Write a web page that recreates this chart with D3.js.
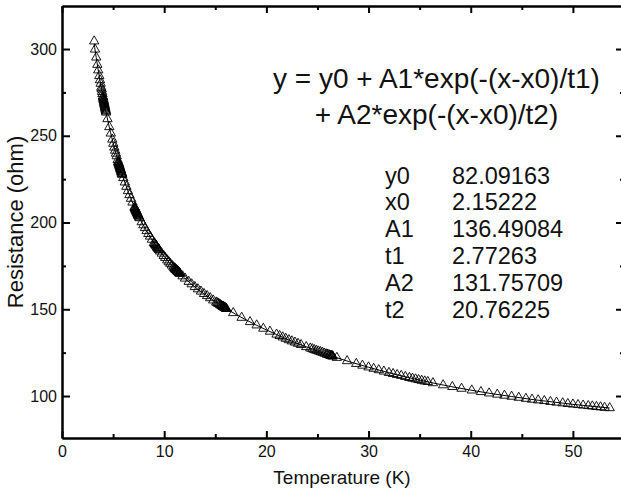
<!DOCTYPE html>
<html>
<head>
<meta charset="utf-8">
<script src="https://cdn.jsdelivr.net/npm/d3@7/dist/d3.min.js"></script>
<style>
  html, body { margin: 0; padding: 0; background: #fff; }
  svg { display: block; }
  text { font-family: "Liberation Sans", Arial, sans-serif; fill: #111; }
</style>
</head>
<body>
<svg id="chart" width="621" height="491"></svg>
<script>
// ---- data ----
const tempK = [
  3.15, 3.23, 3.35, 3.46, 3.55, 3.65, 3.72, 3.78, 3.85, 3.88,
  3.92, 3.96, 4.0, 4.04, 4.08, 4.12, 4.16, 4.2, 4.24, 4.28, 4.32,
  4.45, 4.63, 4.78, 4.92, 5.02, 5.12, 5.2, 5.28, 5.35,
  5.45, 5.5, 5.55, 5.6, 5.65, 5.7, 5.75, 5.8, 5.85, 5.9,
  6.0, 6.15, 6.3, 6.45, 6.6, 6.75, 6.9,
  7.1, 7.15, 7.2, 7.25, 7.3, 7.35, 7.4, 7.45, 7.5, 7.55, 7.6,
  7.8, 7.96, 8.12, 8.28, 8.45, 8.61, 8.8,
  9.0, 9.1, 9.2, 9.3, 9.4, 9.5, 9.6,
  9.76, 9.95, 10.1, 10.3, 10.45, 10.6, 10.75, 10.9,
  11.0, 11.08, 11.16, 11.24, 11.32, 11.4, 11.48, 11.55,
  11.8, 12.04, 12.4, 12.69, 13.0, 13.3, 13.6, 13.9, 14.2, 14.5, 14.8,
  15.1, 15.2, 15.3, 15.4, 15.5, 15.6, 15.7, 15.8, 15.9, 16.0, 16.1,
  16.76, 17.58, 18.4, 19.05, 19.7, 20.35,
  21.0, 21.3, 21.6, 21.9, 22.2, 22.5, 22.8, 23.1, 23.4,
  23.9, 24.3, 24.5, 24.7, 24.9, 25.1, 25.3, 25.5, 25.7, 25.9, 26.1, 26.3, 26.5,
  26.9, 27.9, 28.8, 29.4, 30.0, 30.5, 31.0, 31.5, 32.0, 32.4, 32.8, 33.2, 33.6,
  34.0, 34.3, 34.6, 34.9, 35.2, 35.5, 35.8, 36.3, 37.3, 38.2, 39.1, 40.1,
  41.0, 41.8, 42.6, 43.3, 44.0, 44.7, 45.4, 46.0, 46.6, 47.2, 47.8, 48.4,
  49.0, 49.5, 50.0, 50.5, 51.0, 51.5, 51.9, 52.3, 52.7, 53.1, 53.6,
  // dense clusters
  4.02, 4.06, 4.10, 4.14, 4.18, 4.22, 4.26, 4.30,
  5.52, 5.57, 5.62, 5.67, 5.72, 5.77, 5.82, 5.87,
  7.12, 7.17, 7.22, 7.27, 7.32, 7.37, 7.42, 7.47,
  9.05, 9.15, 9.25, 9.35, 9.45,
  11.04, 11.12, 11.2, 11.28, 11.36, 11.44, 11.52,
  15.75, 15.85, 15.95, 16.05,
  25.95, 26.2, 26.35, 26.4, 26.45
];
const resOhm = [
  304.5, 299.8, 295.2, 291.0, 287.8, 284.5, 282.1, 280.1, 277.8, 276.8,
  275.4, 274.1, 272.7, 271.5, 270.4, 269.2, 268.1, 266.9, 265.8, 264.6, 263.5,
  259.7, 255.1, 251.4, 247.9, 245.5, 243.3, 241.5, 239.8, 238.3,
  236.1, 235.0, 234.1, 233.1, 232.2, 231.3, 230.4, 229.4, 228.5, 227.6,
  225.7, 223.2, 220.7, 218.2, 215.9, 213.8, 211.6,
  208.8, 208.2, 207.5, 206.9, 206.3, 205.6, 205.0, 204.3, 203.7, 203.1, 202.6,
  200.3, 198.5, 196.9, 195.2, 193.5, 192.0, 190.2,
  188.3, 187.5, 186.7, 185.8, 185.0, 184.2, 183.4,
  182.2, 180.8, 179.7, 178.3, 177.2, 176.3, 175.3, 174.3,
  173.7, 173.2, 172.8, 172.3, 171.8, 171.4, 170.9, 170.5,
  169.1, 167.8, 165.9, 164.5, 162.9, 161.6, 160.3, 158.9, 157.7, 156.5, 155.2,
  154.0, 153.6, 153.3, 152.9, 152.5, 152.1, 151.7, 151.4, 151.0, 150.6, 150.3,
  147.9, 145.2, 142.7, 140.8, 138.9, 137.2,
  135.5, 134.7, 133.9, 133.1, 132.3, 131.6, 130.9, 130.2, 129.5,
  128.3, 127.5, 127.1, 126.6, 126.2, 125.8, 125.4, 125.0, 124.5, 124.1, 123.7, 123.3, 122.9,
  122.1, 120.2, 118.6, 117.6, 116.6, 115.8, 115.0, 114.2, 113.4, 112.8, 112.2, 111.7, 111.1,
  110.5, 110.1, 109.7, 109.3, 108.9, 108.5, 108.2, 107.5, 106.3, 105.3, 104.3, 103.3,
  102.4, 101.6, 100.9, 100.3, 99.7, 99.1, 98.5, 98.0, 97.6, 97.2, 96.7, 96.3,
  95.9, 95.5, 95.2, 94.9, 94.6, 94.3, 94.1, 93.8, 93.6, 93.3, 93.1,
  // dense clusters
  272.1, 270.9, 269.8, 268.6, 267.5, 266.3, 265.2, 264.1,
  234.6, 233.7, 232.8, 231.8, 230.9, 230.0, 229.1, 228.1,
  208.5, 207.9, 207.3, 206.6, 206.0, 205.4, 204.7, 204.1,
  187.9, 187.1, 186.3, 185.4, 184.6,
  173.5, 173.0, 172.5, 172.1, 171.6, 171.2, 170.7,
  151.6, 151.2, 150.8, 150.4,
  124.0, 123.5, 123.2, 123.1, 123.0
];
// fitted curve
const fitT = [3.15, 3.2, 3.5, 4, 4.5, 5, 5.5, 6, 6.5, 7, 7.5, 8, 8.5, 9, 9.5, 10, 10.5, 11, 11.5, 12,
  13, 14, 15, 16, 17, 18, 19, 20, 22, 24, 26, 28, 30, 32, 34, 36, 38, 40, 42, 44, 46, 48, 50, 52, 53.6];
const fitR = [302.9, 300.9, 289.5, 272.7, 258.3, 245.9, 235.0, 225.7, 217.4, 210.1, 203.7, 198.1, 193.0,
  188.3, 184.2, 180.4, 176.9, 173.7, 170.8, 168.0, 162.9, 158.5, 154.4, 150.6, 147.1, 143.9, 140.9, 138.1,
  132.8, 128.1, 123.9, 120.0, 116.6, 113.4, 110.5, 107.9, 105.5, 103.4, 101.4, 99.7, 98.0, 96.6, 95.2, 94.0, 93.1];

const xMajorTicks = [0, 10, 20, 30, 40, 50];
const xMinorTicks = [5, 15, 25, 35, 45];
const yMajorTicks = [100, 150, 200, 250, 300];
const yMinorTicks = [125, 175, 225, 275];
const xTitle = "Temperature (K)";
const yTitle = "Resistance (ohm)";
const equationLines = ["y = y0 + A1*exp(-(x-x0)/t1)", "+ A2*exp(-(x-x0)/t2)"];
const paramNames = ["y0", "x0", "A1", "t1", "A2", "t2"];
const paramValues = ["82.09163", "2.15222", "136.49084", "2.77263", "131.75709", "20.76225"];

// ---- layout ----
const svg = d3.select("#chart");
const L = 62, R = 624, T = 6, B = 438;
const x = d3.scaleLinear().domain([0, 55]).range([L, R]);
const y = d3.scaleLinear().domain([75.8, 324.8]).range([B, T]);

const clipId = "plotclip";
svg.append("clipPath").attr("id", clipId).append("rect")
  .attr("x", L).attr("y", T).attr("width", R - L).attr("height", B - T);

// fit line
const pts = fitT.map((t, i) => [t, fitR[i]]);
svg.append("path")
  .datum(pts)
  .attr("clip-path", `url(#${clipId})`)
  .attr("fill", "none")
  .attr("stroke", "#000")
  .attr("stroke-width", 1)
  .attr("d", d3.line().x(d => x(d[0])).y(d => y(d[1])).curve(d3.curveMonotoneX));

// data triangles
const tri = d3.symbol().type(d3.symbolTriangle).size(38);
svg.append("g")
  .selectAll("path")
  .data(tempK.map((t, i) => [t, resOhm[i]]))
  .join("path")
  .attr("d", tri)
  .attr("transform", d => `translate(${x(d[0])},${y(d[1])})`)
  .attr("fill", "none")
  .attr("stroke", "#000")
  .attr("stroke-width", 0.9);

// axes (ticks inward)
function styleAxis(g) {
  g.select(".domain").attr("stroke", "#000").attr("stroke-width", 2);
  g.selectAll(".tick line").attr("stroke", "#000").attr("stroke-width", 2);
  g.selectAll("text").attr("font-size", 16).attr("font-family", '"Liberation Sans", Arial, sans-serif').attr("fill", "#111");
}
const fmt = d3.format("d");
// bottom
svg.append("g").attr("transform", `translate(0,${B})`)
  .call(d3.axisBottom(x).tickValues(xMajorTicks).tickFormat(fmt).tickSizeInner(-7).tickSizeOuter(0).tickPadding(8))
  .call(styleAxis);
svg.append("g").attr("transform", `translate(0,${B})`)
  .call(d3.axisBottom(x).tickValues(xMinorTicks).tickFormat("").tickSizeInner(-4).tickSizeOuter(0))
  .call(styleAxis);
// top
svg.append("g").attr("transform", `translate(0,${T})`)
  .call(d3.axisTop(x).tickValues(xMajorTicks).tickFormat("").tickSizeInner(-7).tickSizeOuter(0))
  .call(styleAxis);
svg.append("g").attr("transform", `translate(0,${T})`)
  .call(d3.axisTop(x).tickValues(xMinorTicks).tickFormat("").tickSizeInner(-4).tickSizeOuter(0))
  .call(styleAxis);
// left
svg.append("g").attr("transform", `translate(${L},0)`)
  .call(d3.axisLeft(y).tickValues(yMajorTicks).tickFormat(fmt).tickSizeInner(-8).tickSizeOuter(0).tickPadding(5))
  .call(styleAxis);
svg.append("g").attr("transform", `translate(${L},0)`)
  .call(d3.axisLeft(y).tickValues(yMinorTicks).tickFormat("").tickSizeInner(-4).tickSizeOuter(0))
  .call(styleAxis);
// right
svg.append("g").attr("transform", `translate(${R},0)`)
  .call(d3.axisRight(y).tickValues(yMajorTicks).tickFormat("").tickSizeInner(-8).tickSizeOuter(0))
  .call(styleAxis);
svg.append("g").attr("transform", `translate(${R},0)`)
  .call(d3.axisRight(y).tickValues(yMinorTicks).tickFormat("").tickSizeInner(-4).tickSizeOuter(0))
  .call(styleAxis);

// axis titles
svg.append("text")
  .attr("x", 342).attr("y", 484)
  .attr("text-anchor", "middle").attr("font-size", 19)
  .text(xTitle);
svg.append("text")
  .attr("transform", `translate(23,${222}) rotate(-90)`)
  .attr("text-anchor", "middle").attr("font-size", 22)
  .text(yTitle);

// equation
svg.append("g").selectAll("text")
  .data(equationLines)
  .join("text")
  .attr("x", 436.5).attr("y", (d, i) => 88 + i * 36)
  .attr("text-anchor", "middle").attr("font-size", 28)
  .text(d => d);

// parameter table
const rowY = i => 183.5 + i * 26.8;
svg.append("g").selectAll("text")
  .data(paramNames)
  .join("text")
  .attr("x", 385).attr("y", (d, i) => rowY(i))
  .attr("font-size", 23.5)
  .text(d => d);
svg.append("g").selectAll("text")
  .data(paramValues)
  .join("text")
  .attr("x", 452).attr("y", (d, i) => rowY(i))
  .attr("font-size", 23.5)
  .text(d => d);
</script>
</body>
</html>
